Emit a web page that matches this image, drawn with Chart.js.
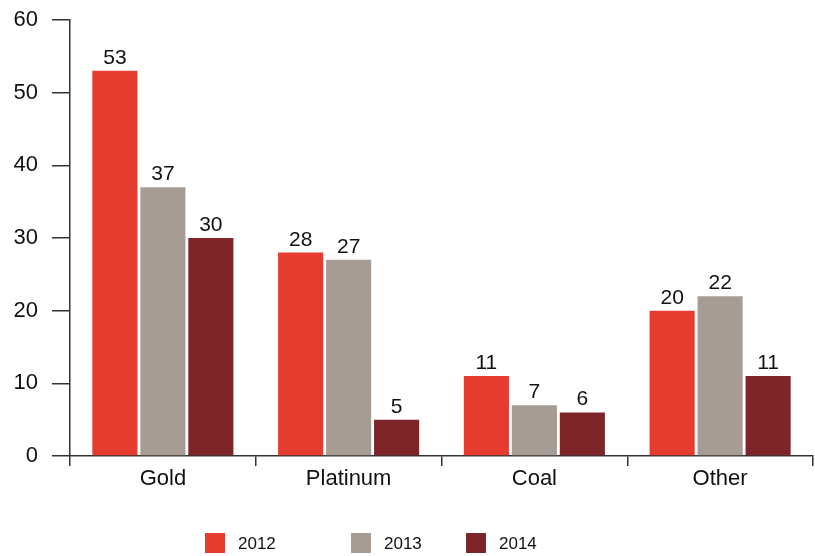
<!DOCTYPE html>
<html>
<head>
<meta charset="utf-8">
<script src="https://cdn.jsdelivr.net/npm/chart.js@4"></script>
<style>
  html, body { margin: 0; padding: 0; background: #fff; }
  #wrap { position: relative; width: 815px; height: 556px; }
  #legend { position: absolute; top: 533px; left: 0; width: 815px; height: 22px;
            font-family: "Liberation Sans", Arial, sans-serif; font-size: 17px; color: #111; }
  .item { position: absolute; top: 0; height: 20px; line-height: 22px; }
  .item span.box { position: absolute; left: 0; top: 0; width: 20px; height: 20px; }
  .item span.txt { position: absolute; left: 33px; top: 0; }
</style>
</head>
<body>
<div id="wrap">
  <canvas id="chart" width="815" height="556"></canvas>
  <div id="legend"></div>
</div>
<script>
const categories = ['Gold', 'Platinum', 'Coal', 'Other'];
const years = ['2012', '2013', '2014'];
const values2012 = [53, 28, 11, 20];
const values2013 = [37, 27, 7, 22];
const values2014 = [30, 5, 6, 11];
const colors = ['#E63C2F', '#A79C93', '#7E252A'];
const legendLeft = [205, 351, 466];

// value labels above each bar
const barLabels = {
    id: 'barLabels',
    afterDatasetsDraw(chart) {
        const ctx = chart.ctx;
        ctx.save();
        ctx.font = '21px "Liberation Sans", Arial, sans-serif';
        ctx.fillStyle = '#111';
        ctx.textAlign = 'center';
        ctx.textBaseline = 'alphabetic';
        chart.data.datasets.forEach((ds, i) => {
            chart.getDatasetMeta(i).data.forEach((bar, j) => {
                ctx.fillText(ds.data[j], bar.x, bar.y - 7);
            });
        });
        ctx.restore();
    }
};

const data = {
    labels: categories,
    datasets: [
        { label: years[0], data: values2012, backgroundColor: colors[0] },
        { label: years[1], data: values2013, backgroundColor: colors[1] },
        { label: years[2], data: values2014, backgroundColor: colors[2] }
    ]
};

const config = {
    type: 'bar',
    data: data,
    options: {
        responsive: false,
        animation: false,
        categoryPercentage: 0.775,
        barPercentage: 0.94,
        layout: { padding: { top: 0, right: 2, left: 0, bottom: 0 } },
        plugins: {
            legend: { display: false },
            tooltip: { enabled: false }
        },
        scales: {
            x: {
                grid: {
                    offset: true,
                    drawOnChartArea: false,
                    tickLength: 10,
                    color: '#333',
                    lineWidth: 1.5
                },
                border: { color: '#333', width: 1.5 },
                ticks: {
                    padding: 0,
                    color: '#111',
                    font: { family: '"Liberation Sans", Arial, sans-serif', size: 22 }
                },
                afterFit: s => { s.height = 100; }
            },
            y: {
                min: 0,
                max: 60,
                ticks: {
                    stepSize: 10,
                    padding: 14,
                    color: '#111',
                    font: { family: '"Liberation Sans", Arial, sans-serif', size: 22 }
                },
                grid: {
                    drawOnChartArea: false,
                    tickLength: 18,
                    color: '#333',
                    lineWidth: 1.5
                },
                border: { color: '#333', width: 1.5 },
                afterFit: s => { s.width = 70; s.paddingTop = 20; s.paddingBottom = 0; }
            }
        }
    },
    plugins: [barLabels]
};

new Chart(document.getElementById('chart'), config);

const legend = document.getElementById('legend');
years.forEach((y, i) => {
    const item = document.createElement('div');
    item.className = 'item';
    item.style.left = legendLeft[i] + 'px';
    item.innerHTML = '<span class="box" style="background:' + colors[i] + '"></span><span class="txt">' + y + '</span>';
    legend.appendChild(item);
});
</script>
</body>
</html>
